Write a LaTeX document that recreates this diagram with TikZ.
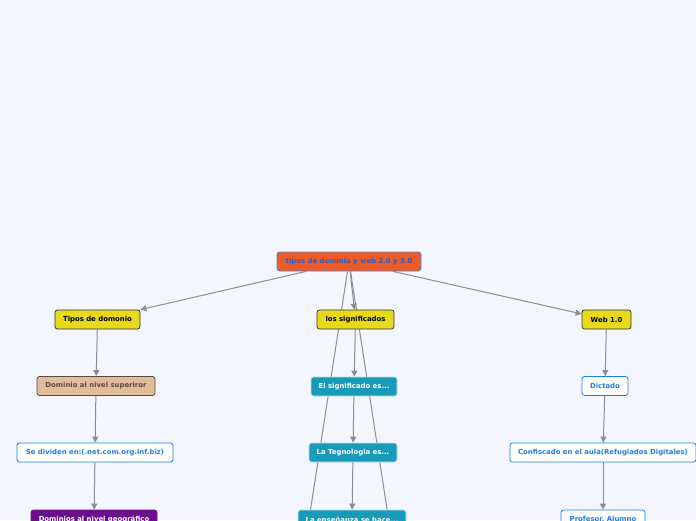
\documentclass[tikz,border=0pt]{standalone}
\usepackage{fontspec}
\setmainfont{DejaVu Sans}
\usepackage{tikz}
\usepackage{xcolor}
\usetikzlibrary{arrows.meta,backgrounds}
\definecolor{PageBlue}{HTML}{F3F6FE}
\definecolor{RootRed}{HTML}{F05A24}
\definecolor{RootEdge}{HTML}{3E8EDE}
\definecolor{RootText}{HTML}{1F5FD0}
\definecolor{TopicYellow}{HTML}{E6DA1C}
\definecolor{TanFill}{HTML}{E2BD9B}
\definecolor{TanText}{HTML}{5B4B3F}
\definecolor{LinkBlue}{HTML}{1E7FE0}
\definecolor{GeoPurple}{HTML}{6B0F8C}
\definecolor{SigTeal}{HTML}{1A9AB9}
\definecolor{EdgeGray}{HTML}{8C8C94}

\begin{document}
\begin{tikzpicture}[
      x=1pt,
      y=-1pt,
      font=\fontsize{6.9}{8}\selectfont\bfseries,
      box/.style={rounded corners=2.5pt,minimum height=19pt,inner sep=1.5pt,line width=0.8pt},
      rootbox/.style={box,fill=RootRed,draw=RootEdge,text=RootText},
      topic/.style={box,fill=TopicYellow,draw=black!80,text=black},
      tanbox/.style={box,fill=TanFill,draw=TanText,text=TanText},
      whitebox/.style={box,fill=white,draw=LinkBlue,text=LinkBlue},
      geobox/.style={box,fill=GeoPurple,draw=GeoPurple,text=white},
      tealbox/.style={box,fill=SigTeal,draw=white!70!SigTeal,text=white},
      link/.style={draw=EdgeGray,line width=1pt,-{Triangle[width=6pt,length=6pt]}},
      plain/.style={draw=EdgeGray,line width=1pt}
    ]
      \clip (0,0) rectangle (696,520);
      \useasboundingbox (0,0) rectangle (696,520);
      % centre
      \node[rootbox,minimum width=144pt] (root) at (349,261.5) {tipos de dominio y web 2.0 y 3.0};
      % left branch
      \node[topic,minimum width=85pt] (tipos) at (97.5,319.5) {Tipos de domonio};
      \node[tanbox,minimum width=118pt] (superior) at (96,386) {Dominio al nivel superiror};
      \node[whitebox,minimum width=156pt] (dividen) at (95,452.5) {Se dividen en:(.net.com.org.inf.biz)};
      \node[geobox,minimum width=126pt] (geo) at (94,519.5) {Dominios al nivel geográfico};
      % middle branch
      \node[topic,minimum width=77pt] (signif) at (355.5,319.5) {los significados};
      \node[tealbox,minimum width=86pt] (signifes) at (354,386.5) {El significado es...};
      \node[tealbox,minimum width=88pt] (tecno) at (353,452.5) {La Tegnologia es...};
      \node[tealbox,minimum width=108pt] (ensenanza) at (352,519.5) {La enseñanza se hace...};
      % right branch
      \node[topic,minimum width=49pt] (web) at (606.5,319.5) {Web 1.0};
      \node[whitebox,minimum width=46pt] (dictado) at (605,386) {Dictado};
      \node[whitebox,minimum width=186pt] (confiscado) at (603,452.5) {Confiscado en el aula(Refugiados Digitales)};
      \node[whitebox,minimum width=84pt] (profesor) at (603,519.5) {Profesor, Alumno};
      % branches running off the page
      \coordinate (lowleft) at (296.5,600);
      \coordinate (lowright) at (401,600);
      \begin{scope}[on background layer]
        \fill[PageBlue] (0,0) rectangle (696,520);
        \draw[link] (root) -- (tipos);
        \draw[link] (root) -- (signif);
        \draw[link] (root) -- (web);
        \draw[plain] (root) -- (lowleft);
        \draw[plain] (root) -- (lowright);
        \draw[link] (tipos) -- (superior);
        \draw[link] (superior) -- (dividen);
        \draw[link] (dividen) -- (geo);
        \draw[link] (signif) -- (signifes);
        \draw[link] (signifes) -- (tecno);
        \draw[link] (tecno) -- (ensenanza);
        \draw[link] (web) -- (dictado);
        \draw[link] (dictado) -- (confiscado);
        \draw[link] (confiscado) -- (profesor);
      \end{scope}
    \end{tikzpicture}
\end{document}
